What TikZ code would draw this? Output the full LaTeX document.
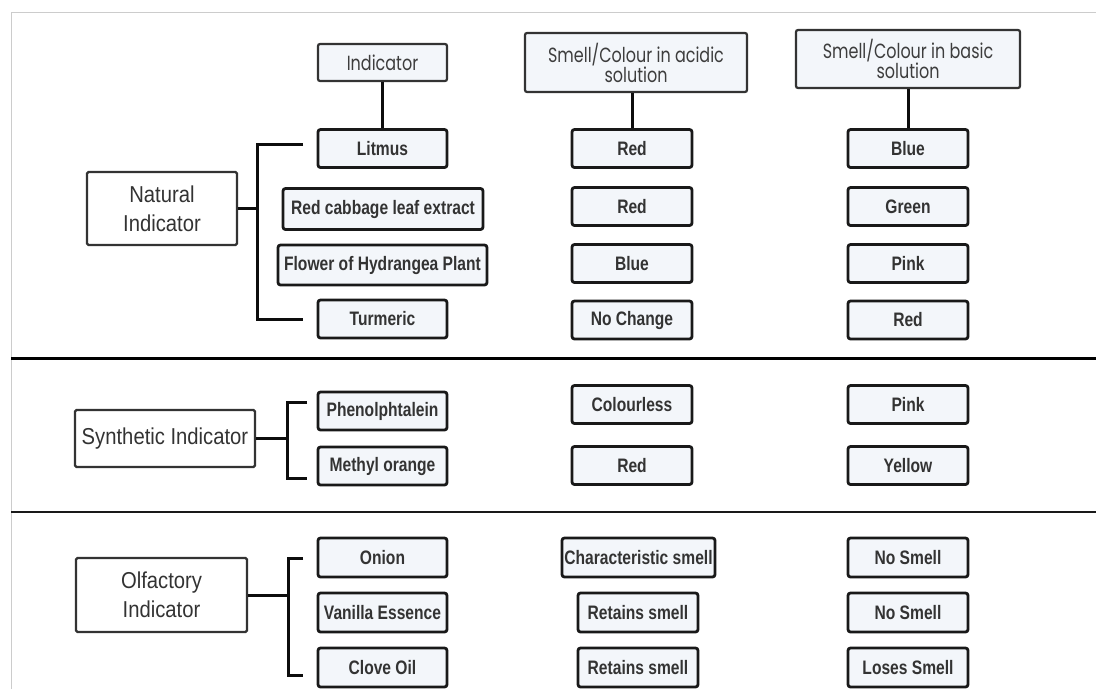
\documentclass[tikz,border=0pt]{standalone}
\usepackage{fontspec}
\setmainfont{Liberation Sans}
\newfontfamily\boxfont[FakeStretch=0.8]{Liberation Sans}
\newfontfamily\groupfont[FakeStretch=0.88]{Liberation Sans}
\newfontfamily\headfont[FakeStretch=0.78]{Poppins}
\definecolor{boxfill}{HTML}{F3F6FA}
\definecolor{ink}{HTML}{333333}
\tikzset{
  val/.style={draw=black!90, line width=2.8pt, rounded corners=2.5pt, fill=boxfill,
    inner sep=0pt, minimum width=120pt, minimum height=38pt, text=ink,
    font=\boxfont\bfseries\fontsize{19.5}{22}\selectfont},
  head/.style={draw=ink, line width=2.2pt, rounded corners=2pt, fill=boxfill,
    inner sep=0pt, align=center, text=ink!95,
    font=\headfont\fontsize{20.5}{20}\selectfont},
  group/.style={draw=ink, line width=2.4pt, rounded corners=1.5pt, fill=white,
    inner sep=0pt, align=center, text=ink,
    font=\groupfont\fontsize{23}{29}\selectfont},
  brace/.style={line width=3pt, black!95},
  link/.style={line width=3pt, black!95}
}
\begin{document}
\begin{tikzpicture}[x=10pt, y=-10pt]
    \useasboundingbox (0,0) rectangle (109.6,68.9);
    % frame and dividers
    \draw[black!20, line width=1pt] (1.1,68.9) -- (1.1,1.25) -- (109.6,1.25);
    \draw[line width=3pt] (1.1,35.8) -- (109.6,35.8);
    \draw[line width=2.8pt, black!90] (1.1,51.2) -- (109.6,51.2);
    %% headers
    \node[head, minimum width=129pt, minimum height=37pt] (ind) at (38.25,6.25) {Indicator};
    \node[head, minimum width=222pt, minimum height=59pt] (acid) at (63.6,6.25) {Smell/Colour in acidic\\solution};
    \node[head, minimum width=224pt, minimum height=58pt] (base) at (90.8,5.9) {Smell/Colour in basic\\solution};
    % indicator column
    \node[val, minimum width=129pt] (lit) at (38.25,14.85) {Litmus};
    \node[val, minimum width=200pt, minimum height=41pt] (cab) at (38.3,20.9) {Red cabbage leaf extract};
    \node[val, minimum width=209pt, minimum height=40pt] (hyd) at (38.25,26.5) {Flower of Hydrangea Plant};
    \node[val, minimum width=129pt] (tur) at (38.25,31.9) {Turmeric};
    \node[val, minimum width=129pt] (phe) at (38.25,41.1) {Phenolphtalein};
    \node[val, minimum width=129pt] (met) at (38.25,46.6) {Methyl orange};
    \node[val, minimum width=129pt, minimum height=39pt] (oni) at (38.25,55.75) {Onion};
    \node[val, minimum width=129pt, minimum height=39pt] (van) at (38.25,61.25) {Vanilla Essence};
    \node[val, minimum width=129pt, minimum height=39pt] (clo) at (38.25,66.75) {Clove Oil};
    % acidic column
    \node[val] (a1) at (63.2,14.85) {Red}; \node[val] (a2) at (63.2,20.65) {Red};
    \node[val] (a3) at (63.2,26.35) {Blue}; \node[val] (a4) at (63.2,32.0) {No Change};
    \node[val] (a5) at (63.2,40.45) {Colourless}; \node[val] (a6) at (63.2,46.55) {Red};
    \node[val, minimum width=153pt, minimum height=39pt] (a7) at (63.85,55.75) {Characteristic smell};
    \node[val, minimum height=39pt] (a8) at (63.8,61.25) {Retains smell};
    \node[val, minimum height=39pt] (a9) at (63.8,66.75) {Retains smell};
    % basic column
    \node[val] (b1) at (90.8,14.85) {Blue}; \node[val] (b2) at (90.8,20.65) {Green};
    \node[val] (b3) at (90.8,26.35) {Pink}; \node[val] (b4) at (90.8,32.0) {Red};
    \node[val] (b5) at (90.8,40.45) {Pink}; \node[val] (b6) at (90.8,46.55) {Yellow};
    \node[val, minimum height=39pt] (b7) at (90.8,55.75) {No Smell};
    \node[val, minimum height=39pt] (b8) at (90.8,61.25) {No Smell};
    \node[val, minimum height=39pt] (b9) at (90.8,66.75) {Loses Smell};
    \draw[link] (ind) -- (lit);
    \draw[link] (a1.north) -- (a1.north |- acid.south);
    \draw[link] (b1.north) -- (b1.north |- base.south);
    %% groups
    \node[group, minimum width=150pt, minimum height=73pt] (nat) at (16.2,20.85) {Natural\\Indicator};
    \node[group, minimum width=180pt, minimum height=57pt] (syn) at (16.5,43.85) {Synthetic Indicator};
    \node[group, minimum width=171pt, minimum height=74pt] (olf) at (16.15,59.5) {Olfactory\\Indicator};
    % natural bracket
    \coordinate (natT) at (30.3,14.4); \coordinate (natB) at (30.3,31.9);
    \draw[brace] (natT) -- ++(-4.6,0) coordinate (natV) -- (natV |- natB) -- (natB);
    \draw[brace] (nat.east) -- (nat.east -| natV);
    % synthetic bracket
    \coordinate (synT) at (30.7,40.2); \coordinate (synB) at (30.7,47.8);
    \draw[brace] (synT) -- ++(-2,0) coordinate (synV) -- (synV |- synB) -- (synB);
    \draw[brace] (syn.east) -- (syn.east -| synV);
    % olfactory bracket
    \coordinate (olfT) at (30.3,55.8); \coordinate (olfB) at (30.3,67.5);
    \draw[brace] (olfT) -- ++(-1.5,0) coordinate (olfV) -- (olfV |- olfB) -- (olfB);
    \draw[brace] (olf.east) -- (olf.east -| olfV);
\end{tikzpicture}
\end{document}
